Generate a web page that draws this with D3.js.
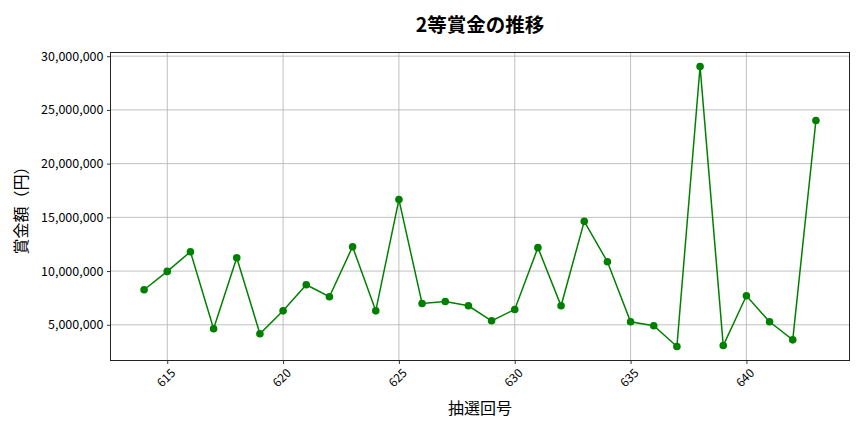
<!DOCTYPE html>
<html><head><meta charset="utf-8">
<script src="https://cdn.jsdelivr.net/npm/d3@7"></script>
<style>
body{margin:0;background:#fff;}
text{font-family:"Noto Sans CJK JP","Noto Sans",sans-serif;}
</style></head>
<body><svg id="c" width="864" height="432"></svg>
<script>
const draws = [614,615,616,617,618,619,620,621,622,623,624,625,626,627,628,629,630,631,632,633,634,635,636,637,638,639,640,641,642,643];
const prizes = [8260000,9970000,11800000,4630000,11240000,4160000,6300000,8730000,7610000,12270000,6300000,16650000,6980000,7170000,6770000,5370000,6430000,12180000,6770000,14630000,10870000,5280000,4910000,2980000,29040000,3070000,7700000,5280000,3600000,24010000];
const xTicks = [615,620,625,630,635,640];
const yTicks = [5000000,10000000,15000000,20000000,25000000,30000000];
const title = "2等賞金の推移";
const xLabel = "抽選回号";
const yLabel = "賞金額（円）";

const svg = d3.select("#c");
const L=110.5, R=849.5, T=52.5, B=360.5;
const xMin=d3.min(draws), xMax=d3.max(draws), xm=(xMax-xMin)*0.05;
const yMin=d3.min(prizes), yMax=d3.max(prizes), ym=(yMax-yMin)*0.05;
const x=d3.scaleLinear().domain([xMin-xm,xMax+xm]).range([L,R]);
const y=d3.scaleLinear().domain([yMin-ym,yMax+ym]).range([B,T]);

// grid
svg.append("g").selectAll("line").data(xTicks).join("line")
 .attr("x1",d=>x(d)).attr("x2",d=>x(d)).attr("y1",T).attr("y2",B)
 .attr("stroke","#b0b0b0").attr("stroke-width",0.8);
svg.append("g").selectAll("line").data(yTicks).join("line")
 .attr("x1",L).attr("x2",R).attr("y1",d=>y(d)).attr("y2",d=>y(d))
 .attr("stroke","#b0b0b0").attr("stroke-width",0.8);

// axes
const fmt=d3.format(",");
const gx=svg.append("g").attr("transform",`translate(0,${B})`)
 .call(d3.axisBottom(x).tickValues(xTicks).tickSize(3.5).tickSizeOuter(0));
gx.select(".domain").remove();
gx.selectAll("text").attr("font-size",12).attr("fill","#000")
 .attr("text-anchor","middle").attr("dy",0).attr("y",0)
 .attr("transform","translate(-1,18) rotate(-45)").attr("dominant-baseline","middle");
const gy=svg.append("g").attr("transform",`translate(${L},0)`)
 .call(d3.axisLeft(y).tickValues(yTicks).tickFormat(fmt).tickSize(3.5).tickSizeOuter(0));
gy.select(".domain").remove();
gy.selectAll("text").attr("font-size",12.5).attr("fill","#000").attr("x",-7);
svg.selectAll(".tick line").attr("stroke","#000").attr("stroke-width",0.8);

svg.append("rect").attr("x",L).attr("y",T).attr("width",R-L).attr("height",B-T)
 .attr("fill","none").attr("stroke","#222").attr("stroke-width",1);

// line
svg.append("path").datum(draws.map((d,i)=>[d,prizes[i]]))
 .attr("fill","none").attr("stroke","#008000").attr("stroke-width",1.5)
 .attr("d",d3.line().x(d=>x(d[0])).y(d=>y(d[1])));
svg.append("g").selectAll("circle").data(draws.map((d,i)=>[d,prizes[i]])).join("circle")
 .attr("cx",d=>x(d[0])).attr("cy",d=>y(d[1])).attr("r",3.8).attr("fill","#008000");

// labels
svg.append("text").attr("x",(L+R)/2).attr("y",32).attr("text-anchor","middle")
 .attr("font-size",19.5).attr("font-weight","bold").text(title);
svg.append("text").attr("x",(L+R)/2).attr("y",414).attr("text-anchor","middle")
 .attr("font-size",16).text(xLabel);
svg.append("text").attr("transform",`translate(27,${(T+B)/2}) rotate(-90)`).attr("text-anchor","middle")
 .attr("font-size",16).text(yLabel);
</script></body></html>
